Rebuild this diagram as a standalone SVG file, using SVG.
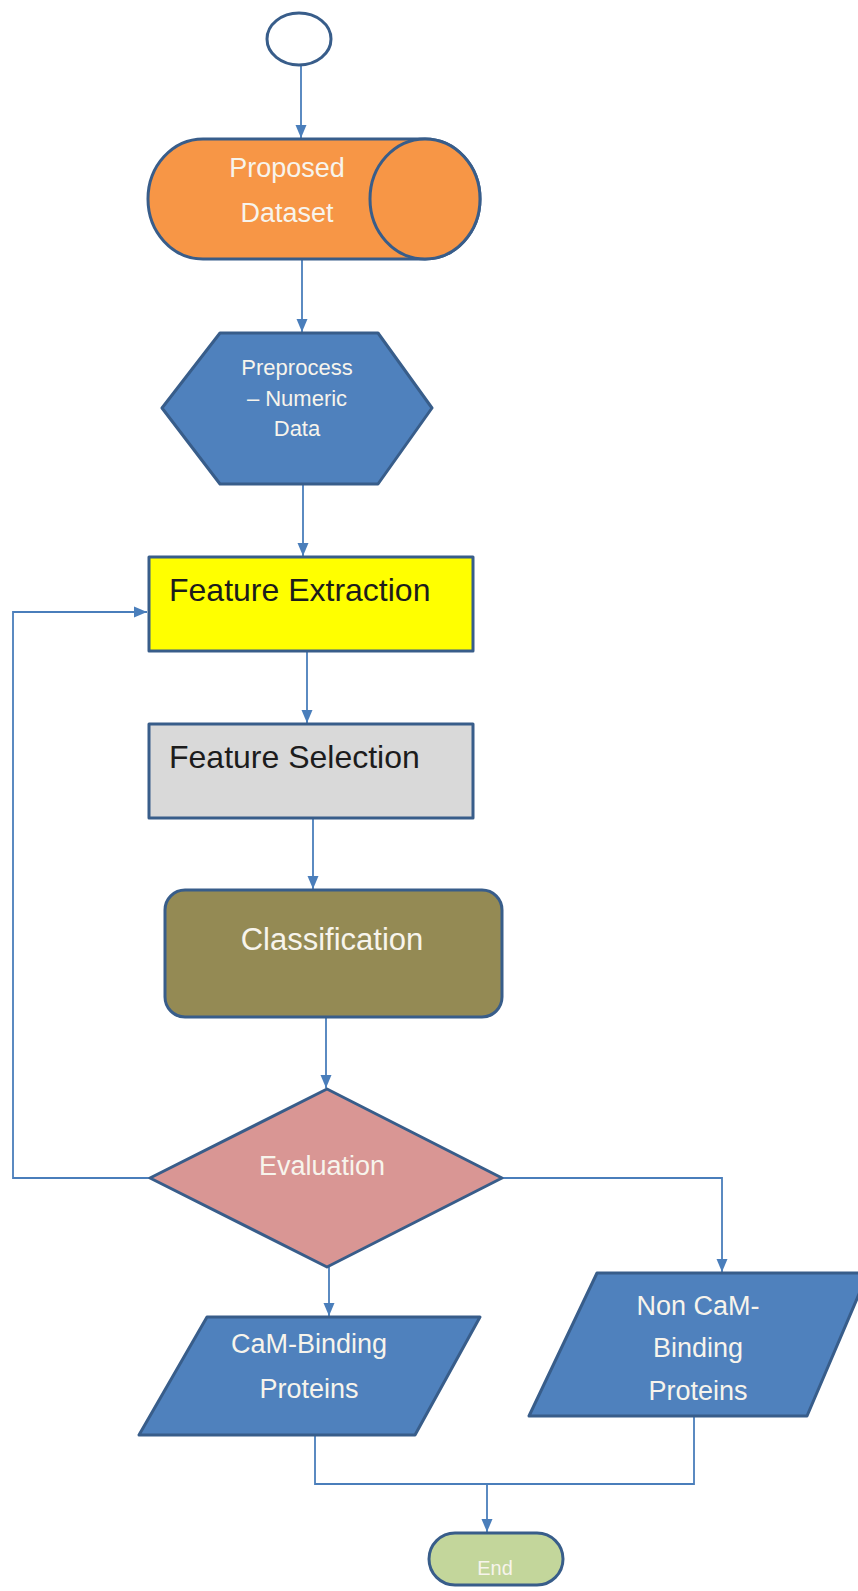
<svg xmlns="http://www.w3.org/2000/svg" width="858" height="1591" viewBox="0 0 858 1591">
  <style>
    .shape { stroke: #385d8a; stroke-width: 3; stroke-linejoin: round; }
    .conn { fill: none; stroke: #4a7ebb; stroke-width: 1.8; }
    .lbl { font-family: "Liberation Sans", Arial, sans-serif; fill: #f7f4ec; text-anchor: middle; }
    .dark { font-family: "Liberation Sans", Arial, sans-serif; fill: #1c1c1c; }
  </style>
  <defs>
    <marker id="arrow" markerUnits="userSpaceOnUse" markerWidth="14" markerHeight="14" viewBox="0 0 14 14" refX="13" refY="7" orient="auto">
      <path d="M0,1.5 L13,7 L0,12.5 Z" fill="#4a7ebb"/>
    </marker>
  </defs>
  <rect width="858" height="1591" fill="#ffffff"/>

  <!-- connectors -->
  <g id="connectors">
    <path class="conn" d="M301,65 V138" marker-end="url(#arrow)"/>
    <path class="conn" d="M302,259 V332" marker-end="url(#arrow)"/>
    <path class="conn" d="M303,484 V556" marker-end="url(#arrow)"/>
    <path class="conn" d="M307,651 V723" marker-end="url(#arrow)"/>
    <path class="conn" d="M313,818 V889" marker-end="url(#arrow)"/>
    <path class="conn" d="M326,1017 V1088" marker-end="url(#arrow)"/>
    <path class="conn" d="M150,1178 H13 V612 H147" marker-end="url(#arrow)"/>
    <path class="conn" d="M502,1178 H722 V1272" marker-end="url(#arrow)"/>
    <path class="conn" d="M329,1267 V1316" marker-end="url(#arrow)"/>
    <path class="conn" d="M315,1435 V1484 H694 V1416"/>
    <path class="conn" d="M487,1484 V1532" marker-end="url(#arrow)"/>
  </g>

  <!-- start -->
  <g id="start">
    <ellipse class="shape" cx="299" cy="39" rx="32" ry="26" fill="#ffffff"/>
  </g>

  <!-- data store -->
  <g id="dataset">
    <path class="shape" fill="#f79646" d="M203,139 H425 A55,60 0 0 1 425,259 H203 A55,60 0 0 1 203,139 Z"/>
    <ellipse class="shape" fill="#f79646" cx="425" cy="199" rx="55" ry="60"/>
    <text class="lbl" x="287" y="177" font-size="27">Proposed</text>
    <text class="lbl" x="287" y="222" font-size="27">Dataset</text>
  </g>

  <!-- preprocessing -->
  <g id="preprocess">
    <polygon class="shape" fill="#4f81bd" points="162,408 220,333 378,333 432,408 378,484 220,484"/>
    <text class="lbl" x="297" y="375" font-size="22">Preprocess</text>
    <text class="lbl" x="297" y="406" font-size="22">– Numeric</text>
    <text class="lbl" x="297" y="436" font-size="22">Data</text>
  </g>

  <!-- feature extraction -->
  <g id="feature-extraction">
    <rect class="shape" x="149" y="557" width="324" height="94" fill="#ffff00"/>
    <text class="dark" x="169" y="601" font-size="32">Feature Extraction</text>
  </g>

  <!-- feature selection -->
  <g id="feature-selection">
    <rect class="shape" x="149" y="724" width="324" height="94" fill="#d9d9d9"/>
    <text class="dark" x="169" y="768" font-size="32">Feature Selection</text>
  </g>

  <!-- classification -->
  <g id="classification">
    <rect class="shape" x="165" y="890" width="337" height="127" rx="20" ry="20" fill="#948a54"/>
    <text class="lbl" x="332" y="950" font-size="31">Classification</text>
  </g>

  <!-- decision -->
  <g id="evaluation">
    <polygon class="shape" fill="#d99694" points="327,1089 502,1178 327,1267 150,1178"/>
    <text class="lbl" x="322" y="1175" font-size="27">Evaluation</text>
  </g>

  <!-- outputs -->
  <g id="cam-binding">
    <polygon class="shape" fill="#4f81bd" points="207,1317 480,1317 415,1435 139,1435"/>
    <text class="lbl" x="309" y="1353" font-size="27">CaM-Binding</text>
    <text class="lbl" x="309" y="1398" font-size="27">Proteins</text>
  </g>

  <g id="non-cam-binding">
    <polygon class="shape" fill="#4f81bd" points="597,1273 868,1273 807,1416 529,1416"/>
    <text class="lbl" x="698" y="1315" font-size="27">Non CaM-</text>
    <text class="lbl" x="698" y="1357" font-size="27">Binding</text>
    <text class="lbl" x="698" y="1400" font-size="27">Proteins</text>
  </g>

  <!-- end -->
  <g id="end">
    <rect class="shape" x="429" y="1533" width="134" height="52" rx="26" ry="26" fill="#c3d69b"/>
    <text class="lbl" x="495" y="1575" font-size="20">End</text>
  </g>
</svg>
